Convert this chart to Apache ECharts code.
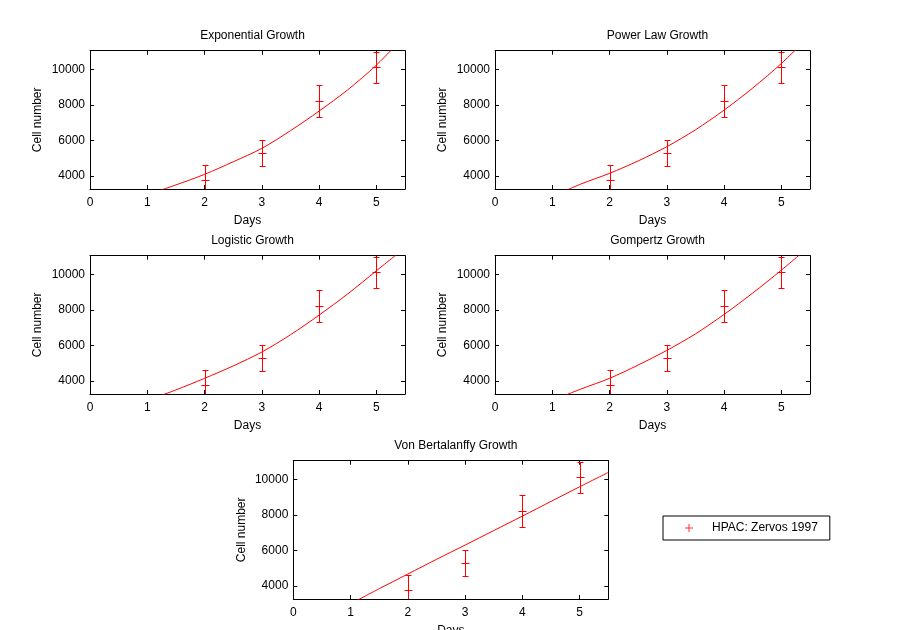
<!DOCTYPE html>
<html>
<head>
<meta charset="utf-8">
<script src="https://cdn.jsdelivr.net/npm/echarts@6/dist/echarts.min.js"></script>
<style>
html,body{margin:0;padding:0;background:#fff;}
#chart{width:900px;height:630px;}
</style>
</head>
<body>
<div id="chart"></div>
<script>
"use strict";

// measured cell counts (HPAC: Zervos 1997)
const days=[2,3,4,5];
const cells=[3760,5290,8210,10110];
const errs=[850,720,890,890];

// fitted model curves, every half day
const fitDays=[1,1.5,2,2.5,3,3.5,4,4.5,5,5.5];
const expFit=[2950,3500,4094,4800,5555,6550,7653,8850,10238,11900];
const powerFit=[2850,3550,4150,4850,5650,6600,7709,8950,10333,11900];
const logisticFit=[2900,3500,4150,4850,5630,6600,7709,8900,10200,11500];
const gompertzFit=[2900,3550,4150,4900,5724,6650,7747,8950,10238,11600];
const bertalanffyFit=[3000,3850,4674,5500,6304,7120,7934,8760,9583,10390];

const titles=["Exponential Growth","Power Law Growth","Logistic Growth","Gompertz Growth","Von Bertalanffy Growth"];
const fits=[expFit,powerFit,logisticFit,gompertzFit,bertalanffyFit];
const dayTicks=[0,1,2,3,4,5];
const cellTicks=[4000,6000,8000,10000];
const seriesName="HPAC: Zervos 1997";

// plot boxes [left, top]
const boxes=[[90,50.7],[495,50.7],[90,255.7],[495,255.7],[293.3,460.7]];
const boxW=315, boxH=138.3;

const font="'Liberation Sans', Arial, sans-serif";

// error bar with caps plus the '+' marker, snapped to whole pixels
function renderErr(params,api){
  const x=api.value(0), y=api.value(1), e=api.value(2);
  const c=api.coord([x,y]);
  const hi=api.coord([x,y+e]);
  const lo=api.coord([x,y-e]);
  const cs=params.coordSys;
  const px=Math.round(c[0])+0.5, py=Math.round(c[1])+0.5;
  const hy=Math.round(hi[1])+0.5, ly=Math.round(lo[1])+0.5;
  const top=Math.max(hy,cs.y), bot=Math.min(ly,cs.y+cs.height);
  const style={stroke:'#ff0000',lineWidth:1,fill:null};
  const kids=[
    {type:'line',shape:{x1:px,y1:top,x2:px,y2:bot},style:style},
    {type:'line',shape:{x1:px-4,y1:py,x2:px+4,y2:py},style:style}
  ];
  if (hy>=cs.y) kids.push({type:'line',shape:{x1:px-3,y1:hy,x2:px+3,y2:hy},style:style});
  if (ly<=cs.y+cs.height) kids.push({type:'line',shape:{x1:px-3,y1:ly,x2:px+3,y2:ly},style:style});
  return {type:'group',children:kids};
}

const grid=[], xAxis=[], yAxis=[], series=[], title=[];
const axisLine={onZero:false,lineStyle:{color:'#000',width:1}};
const plain=function(v){return String(v);};

boxes.forEach(function(b,i){
  grid.push({left:b[0],top:b[1],width:boxW,height:boxH,containLabel:false,outerBoundsMode:'none'});
  title.push({text:titles[i],left:b[0]+boxW/2,top:b[1]-26,textAlign:'center',
    textStyle:{color:'#000',fontSize:12,fontWeight:'normal',fontFamily:font}});

  xAxis.push({gridIndex:i,type:'value',min:0,max:5.5,position:'bottom',
    name:'Days',nameLocation:'middle',nameGap:26,
    nameTextStyle:{color:'#000',fontSize:12,fontFamily:font},
    axisLine:axisLine,
    axisTick:{inside:true,length:4,customValues:dayTicks,lineStyle:{color:'#000'}},
    axisLabel:{color:'#000',fontSize:12,fontFamily:font,margin:8,customValues:dayTicks,formatter:plain},
    splitLine:{show:false}});
  xAxis.push({gridIndex:i,type:'value',min:0,max:5.5,position:'top',
    axisLine:axisLine,
    axisTick:{inside:true,length:4,customValues:dayTicks,lineStyle:{color:'#000'}},
    axisLabel:{show:false},splitLine:{show:false}});

  yAxis.push({gridIndex:i,type:'value',min:3270,max:11050,position:'left',
    name:'Cell number',nameLocation:'middle',nameGap:46,
    nameTextStyle:{color:'#000',fontSize:12,fontFamily:font},
    axisLine:axisLine,
    axisTick:{inside:true,length:4,customValues:cellTicks,lineStyle:{color:'#000'}},
    axisLabel:{color:'#000',fontSize:12,fontFamily:font,margin:5,customValues:cellTicks,formatter:plain},
    splitLine:{show:false}});
  yAxis.push({gridIndex:i,type:'value',min:3270,max:11050,position:'right',
    axisLine:axisLine,
    axisTick:{inside:true,length:4,customValues:cellTicks,lineStyle:{color:'#000'}},
    axisLabel:{show:false},splitLine:{show:false}});

  series.push({type:'line',xAxisIndex:2*i,yAxisIndex:2*i,
    data:fitDays.map(function(d,k){return [d,fits[i][k]];}),
    smooth:0.3,showSymbol:false,clip:true,silent:true,
    lineStyle:{color:'#ff0000',width:1}});
  series.push({type:'custom',xAxisIndex:2*i,yAxisIndex:2*i,
    data:days.map(function(d,k){return [d,cells[k],errs[k]];}),
    renderItem:renderErr,silent:true});
  // carries the legend entry; the markers themselves are drawn by renderErr
  series.push({type:'scatter',name:seriesName,xAxisIndex:2*i,yAxisIndex:2*i,
    data:days.map(function(d,k){return [d,cells[k]];}),
    symbol:'path://M0,3.5H8V4.5H0Z M3.5,0H4.5V8H3.5Z',symbolSize:0,
    itemStyle:{color:'#ff0000'},silent:true});
});

const chart=echarts.init(document.getElementById('chart'));
chart.setOption({
  backgroundColor:'#fff',
  animation:false,
  textStyle:{fontFamily:font},
  title:title,
  grid:grid,
  xAxis:xAxis,
  yAxis:yAxis,
  legend:{data:[seriesName],left:663,top:516,orient:'horizontal',
    borderColor:'#000',borderWidth:1,borderRadius:0,padding:[6,12,6,22],
    itemWidth:8,itemHeight:8,selectedMode:false,
    textStyle:{color:'#000',fontSize:12,fontFamily:font,padding:[0,0,0,14]}},
  series:series
});
</script>
</body>
</html>
